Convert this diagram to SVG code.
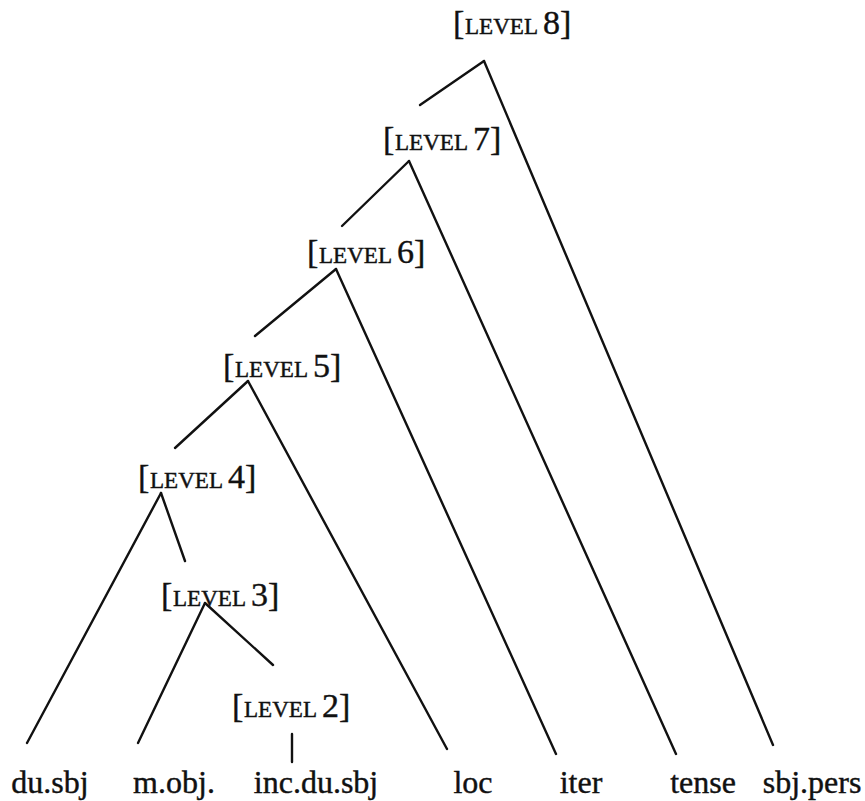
<svg xmlns="http://www.w3.org/2000/svg" width="865" height="801" viewBox="0 0 865 801">
<style>
.b{font-family:"Liberation Serif","Times New Roman",serif;font-size:34px;fill:#111;stroke:#111;stroke-width:0.4}
.s{font-family:"Liberation Serif","Times New Roman",serif;font-size:24px;fill:#111;stroke:#111;stroke-width:0.45}
.lf{font-family:"Liberation Serif","Times New Roman",serif;font-size:32px;fill:#111;stroke:#111;stroke-width:0.4;text-anchor:middle}
.e line{stroke:#111;stroke-width:2.4;stroke-linecap:round}
</style>
<rect width="865" height="801" fill="#fff"/>
<g id="level8"><text class="b" x="453" y="34">[</text><text class="s" x="465" y="34" textLength="73" lengthAdjust="spacingAndGlyphs">LEVEL</text><text class="b" x="543" y="34">8]</text></g>
<g id="level7"><text class="b" x="383" y="150">[</text><text class="s" x="395" y="150" textLength="73" lengthAdjust="spacingAndGlyphs">LEVEL</text><text class="b" x="473" y="150">7]</text></g>
<g id="level6"><text class="b" x="307" y="263">[</text><text class="s" x="319" y="263" textLength="73" lengthAdjust="spacingAndGlyphs">LEVEL</text><text class="b" x="397" y="263">6]</text></g>
<g id="level5"><text class="b" x="223" y="377">[</text><text class="s" x="235" y="377" textLength="73" lengthAdjust="spacingAndGlyphs">LEVEL</text><text class="b" x="313" y="377">5]</text></g>
<g id="level4"><text class="b" x="138" y="488">[</text><text class="s" x="150" y="488" textLength="73" lengthAdjust="spacingAndGlyphs">LEVEL</text><text class="b" x="228" y="488">4]</text></g>
<g id="level3"><text class="b" x="161" y="606">[</text><text class="s" x="173" y="606" textLength="73" lengthAdjust="spacingAndGlyphs">LEVEL</text><text class="b" x="251" y="606">3]</text></g>
<g id="level2"><text class="b" x="232" y="717">[</text><text class="s" x="244" y="717" textLength="73" lengthAdjust="spacingAndGlyphs">LEVEL</text><text class="b" x="322" y="717">2]</text></g>
<g id="du_sbj"><text class="lf" x="50" y="793">du.sbj</text></g>
<g id="m_obj"><text class="lf" x="174" y="793">m.obj.</text></g>
<g id="inc_du_sbj"><text class="lf" x="316" y="793">inc.du.sbj</text></g>
<g id="loc"><text class="lf" x="473" y="793">loc</text></g>
<g id="iter"><text class="lf" x="581" y="793">iter</text></g>
<g id="tense"><text class="lf" x="703" y="793">tense</text></g>
<g id="sbj_pers"><text class="lf" x="812" y="793">sbj.pers</text></g>
<g id="connectors" class="e">
<line x1="484" y1="61" x2="420" y2="105"/>
<line x1="484" y1="61" x2="773" y2="745"/>
<line x1="409" y1="161" x2="342" y2="226"/>
<line x1="409" y1="161" x2="676" y2="754"/>
<line x1="336" y1="269" x2="255" y2="336"/>
<line x1="336" y1="269" x2="556" y2="754"/>
<line x1="248" y1="381" x2="175" y2="448"/>
<line x1="248" y1="381" x2="447" y2="749"/>
<line x1="161" y1="493" x2="27" y2="743"/>
<line x1="161" y1="493" x2="185" y2="561"/>
<line x1="205" y1="603" x2="138" y2="743"/>
<line x1="205" y1="603" x2="273" y2="665"/>
<line x1="292" y1="734" x2="292" y2="762"/>
</g>
</svg>
